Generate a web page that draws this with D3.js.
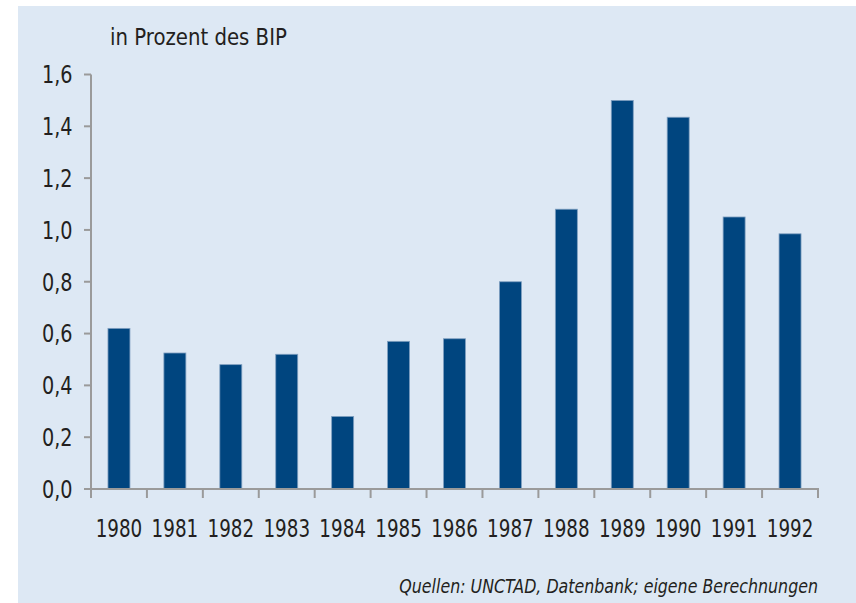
<!DOCTYPE html>
<html>
<head>
<meta charset="utf-8">
<script src="https://cdn.jsdelivr.net/npm/d3@7"></script>
<style>
  html, body { margin: 0; padding: 0; background: #ffffff; }
  svg { display: block; }
  text { font-family: "DejaVu Sans", Verdana, sans-serif; fill: #231f20; }
</style>
</head>
<body>
<script>
// ---- data ----
const years = ["1980","1981","1982","1983","1984","1985","1986","1987","1988","1989","1990","1991","1992"];
const values = [0.62, 0.525, 0.48, 0.52, 0.28, 0.57, 0.58, 0.80, 1.08, 1.50, 1.435, 1.05, 0.985];
const yTicks = [0, 0.2, 0.4, 0.6, 0.8, 1.0, 1.2, 1.4, 1.6];
const unitLabel = "in Prozent des BIP";
const sourceLabel = "Quellen: UNCTAD, Datenbank; eigene Berechnungen";

const W = 856, H = 603;
const svg = d3.select("body").append("svg").attr("width", W).attr("height", H);

// background panel
svg.append("rect").attr("x", 18).attr("y", 6).attr("width", W - 18).attr("height", H - 6)
  .attr("fill", "#dde8f4");

const x = d3.scaleBand().domain(years).range([91, 818]).paddingInner(0.607).paddingOuter(0.3035);
const y = d3.scaleLinear().domain([0, 1.6]).range([489, 74.5]);
const fmt = v => d3.format(".1f")(v).replace(".", ",");
const axisColor = "#9a9a9a";

// squeeze text horizontally to a target width (condensed look of the original font)
function fit(sel, px, py, target) {
  sel.each(function(d, i) {
    const t = d3.select(this);
    const len = this.getComputedTextLength();
    const s = len > 0 ? target / len : 1;
    t.attr("transform", `translate(${px(d, i)},${py(d, i)}) scale(${s},1)`);
  });
}

// bars
svg.append("g").selectAll("rect").data(values).join("rect")
  .attr("x", (d, i) => x(years[i]))
  .attr("y", d => y(d))
  .attr("width", x.bandwidth())
  .attr("height", d => y(0) - y(d))
  .attr("fill", "#00457f")
  .attr("stroke", "#7f9fc0")
  .attr("stroke-width", 0.8);

// y axis
const gy = svg.append("g");
gy.append("line").attr("x1", 91).attr("x2", 91).attr("y1", y(1.6)).attr("y2", y(0) + 9)
  .attr("stroke", axisColor).attr("stroke-width", 2);
gy.selectAll("line.t").data(yTicks).join("line").attr("class", "t")
  .attr("x1", 84).attr("x2", 91).attr("y1", d => y(d)).attr("y2", d => y(d))
  .attr("stroke", axisColor).attr("stroke-width", 2);
gy.selectAll("text").data(yTicks).join("text")
  .attr("text-anchor", "end")
  .attr("font-size", 25)
  .text(fmt)
  .call(fit, () => 72.5, d => y(d) + 8.8, 30.6);

// x axis
const gx = svg.append("g");
gx.append("line").attr("x1", 84).attr("x2", 819).attr("y1", y(0)).attr("y2", y(0))
  .attr("stroke", axisColor).attr("stroke-width", 2);
const bounds = years.map(d => x(d) - x.step() * x.paddingOuter()).concat([818]);
gx.selectAll("line.t").data(bounds).join("line").attr("class", "t")
  .attr("x1", d => d).attr("x2", d => d).attr("y1", y(0)).attr("y2", y(0) + 9)
  .attr("stroke", axisColor).attr("stroke-width", 2);
gx.selectAll("text").data(years).join("text")
  .attr("text-anchor", "middle")
  .attr("font-size", 25)
  .text(d => d)
  .call(fit, d => x(d) + x.bandwidth() / 2, () => 536.5, 46.7);

// unit label
svg.append("text")
  .attr("font-size", 23)
  .text(unitLabel)
  .call(fit, () => 110, () => 45, 177);

// source
svg.append("text")
  .attr("text-anchor", "end")
  .attr("font-size", 20).attr("font-style", "italic")
  .text(sourceLabel)
  .call(fit, () => 818, () => 592.5, 419);
</script>
</body>
</html>
